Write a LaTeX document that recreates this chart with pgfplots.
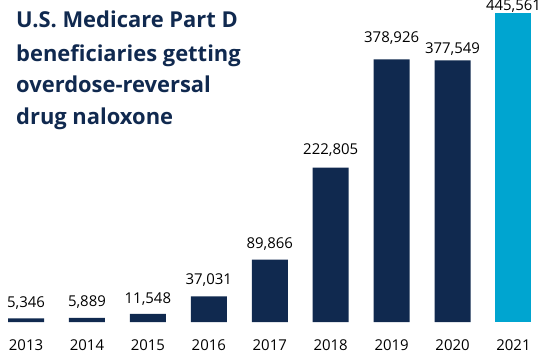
\documentclass[border=0pt]{standalone}
\usepackage{pgfplots}
\pgfplotsset{compat=1.18}
\usepackage{pgfplotstable}
\usepackage{fontspec}
\setmainfont{Open Sans}
\definecolor{navy}{HTML}{10294F}
\definecolor{lblue}{HTML}{00A5D0}
\pgfplotstableread{
x y label dy
0 5346 5,346 11
1 5889 5,889 11
2 11548 11,548 11
3 37031 37,031 12
4 89866 89,866 11
5 222805 222,805 13
6 378926 378,926 17
7 377549 377,549 7
}\mainbars
\pgfplotstableread{
x y label dy
8 445561 445,561 3
}\lastbar
\begin{document}
\begin{tikzpicture}
\begin{axis}[
  at={(0bp,30bp)}, anchor=south west,
  scale only axis, width=552bp, height=322bp,
  xmin=-0.427, xmax=8.632, ymin=0, ymax=464600,
  ybar, bar width=36bp,
  axis line style={draw=none}, tick style={draw=none},
  ytick=\empty,
  xtick={0,1,2,3,4,5,6,7,8},
  xticklabels={2013,2014,2015,2016,2017,2018,2019,2020,2021},
  xticklabel style={anchor=base, yshift=-24bp, font=\fontsize{15}{18}\selectfont, text=black},
  nodes near coords,
  point meta=explicit symbolic,
  visualization depends on={\thisrow{dy}\as\dy},
  every node near coord/.append style={anchor=base, yshift=\dy pt, font=\fontsize{15}{18}\selectfont, text=black},
  clip=false,
]
\addplot[fill=navy, draw=none, bar shift=0pt] table[x=x, y=y, meta=label] {\mainbars};
\addplot[fill=lblue, draw=none, bar shift=0pt] table[x=x, y=y, meta=label] {\lastbar};
\end{axis}
\begin{scope}[every node/.style={anchor=base west, inner sep=0pt, text=navy, font=\bfseries\fontsize{22}{26}\selectfont}]
\node at (16bp,324bp) {U.S. Medicare Part D};
\node at (16bp,290bp) {beneficiaries getting};
\node at (16bp,259bp) {overdose-reversal};
\node at (16bp,227bp) {drug naloxone};
\end{scope}
\pgfresetboundingbox
\path[use as bounding box] (0,0) rectangle (552bp,352bp);
\end{tikzpicture}
\end{document}
